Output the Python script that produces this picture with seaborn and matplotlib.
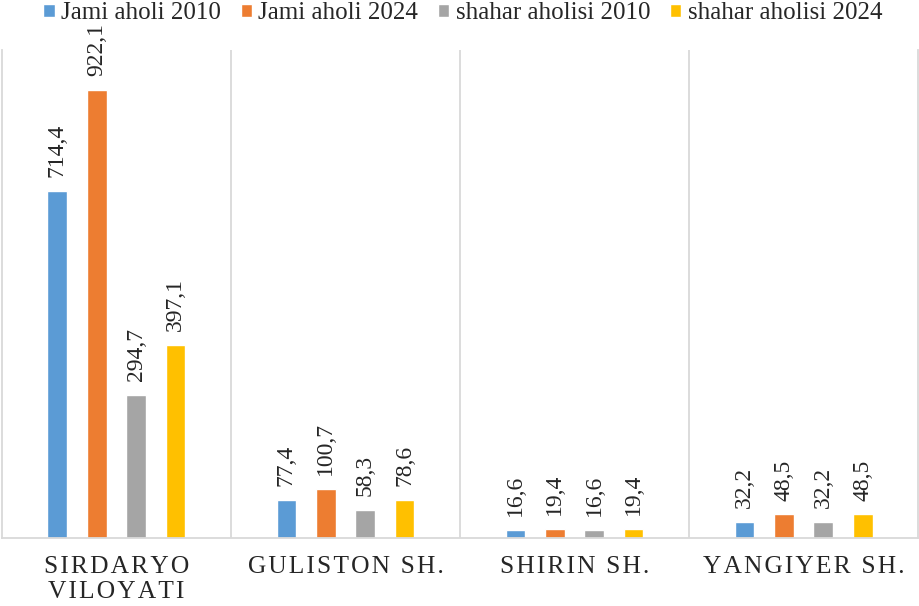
import pandas as pd
import seaborn as sns
import matplotlib.pyplot as plt

categories = ["SIRDARYO\nVILOYATI", "GULISTON SH.", "SHIRIN SH.", "YANGIYER SH."]
series = ["Jami aholi 2010", "Jami aholi 2024", "shahar aholisi 2010", "shahar aholisi 2024"]
jami_2010 = [714.4, 77.4, 16.6, 32.2]
jami_2024 = [922.1, 100.7, 19.4, 48.5]
shahar_2010 = [294.7, 58.3, 16.6, 32.2]
shahar_2024 = [397.1, 78.6, 19.4, 48.5]
colors = ["#5B9BD5", "#ED7D31", "#A5A5A5", "#FFC000"]

rows = []
for name, vals in zip(series, [jami_2010, jami_2024, shahar_2010, shahar_2024]):
    for cat, v in zip(categories, vals):
        rows.append({"hudud": cat, "seriya": name, "qiymat": v})
df = pd.DataFrame(rows)

sns.set_style("white")
plt.rcParams['font.family'] = ['Liberation Serif', 'DejaVu Serif']

fig = plt.figure(figsize=(9.2, 6.06), dpi=100)
ax = fig.add_axes([0.002, 0.1122, 0.996, 0.8053])

sns.barplot(data=df, x="hudud", y="qiymat", hue="seriya", order=categories,
            hue_order=series, palette=colors, width=0.688, gap=0.5,
            saturation=1, ax=ax, legend=True)

for cont in ax.containers:
    labels = [f"{b.get_height():.1f}".replace(".", ",") for b in cont]
    ax.bar_label(cont, labels=labels, rotation=90, padding=10, fontsize=17)

ax.set_xlim(-0.5, 3.5)
ax.set_ylim(0, 1004)
ax.set_yticks([])
ax.set_xlabel("")
ax.set_ylabel("")
for sep in [0.5, 1.5, 2.5]:
    ax.axvline(sep, color="#D9D9D9", lw=1.3, zorder=0)
ax.spines["top"].set_visible(False)
for side in ["left", "right", "bottom"]:
    ax.spines[side].set_color("#D9D9D9")
    ax.spines[side].set_linewidth(1.3)

# letter-spaced category names, like the original
spaced = ["\n".join("\u200a".join(line) for line in c.split("\n")) for c in categories]
ax.set_xticks(range(len(categories)))
ax.set_xticklabels(spaced)
ax.tick_params(axis="x", length=0, pad=13, labelsize=18.4)
for t in ax.get_xticklabels():
    t.set_verticalalignment("top")
    t.set_linespacing(1.15)

handles, lbls = ax.get_legend_handles_labels()
ax.get_legend().remove()
fig.legend(handles, lbls, loc="center", bbox_to_anchor=(0.503, 0.978), ncol=4,
           frameon=False, fontsize=18, handlelength=0.45, handleheight=0.45,
           handletextpad=0.25, columnspacing=0.8, borderpad=0)

fig.savefig("out.png", dpi=100)
